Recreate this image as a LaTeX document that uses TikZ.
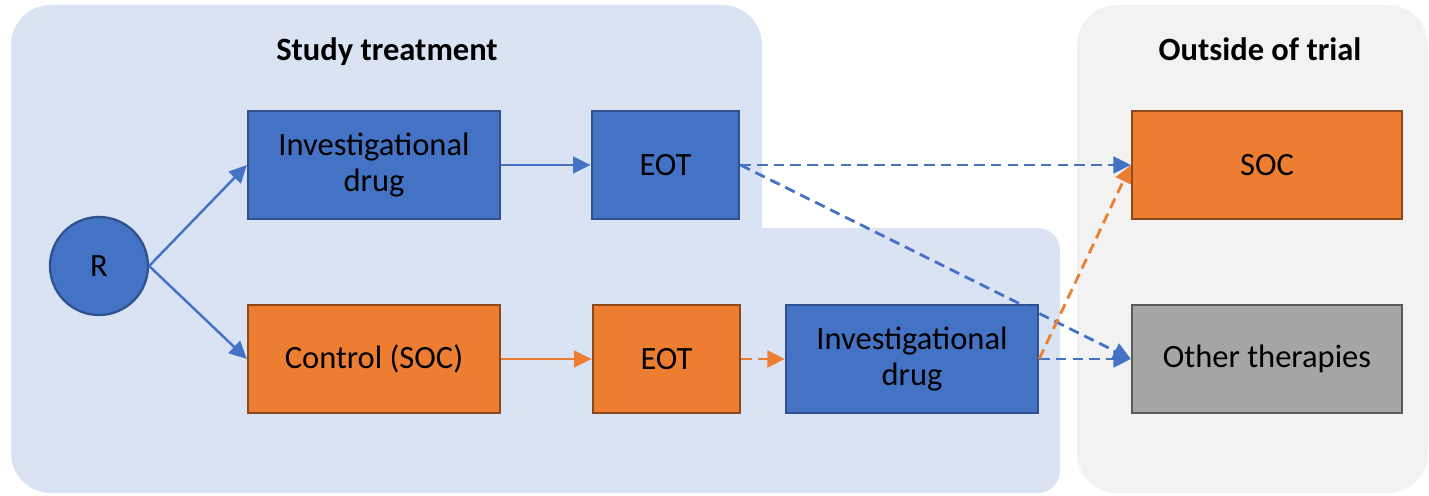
\documentclass[tikz,border=0pt]{standalone}
\usepackage{fontspec}
\setmainfont{Carlito}
\usetikzlibrary{arrows.meta}
\definecolor{bgblue}{HTML}{DAE3F3}
\definecolor{bggrey}{HTML}{F2F2F2}
\definecolor{drugblue}{HTML}{4472C4}
\definecolor{drugedge}{HTML}{2F528F}
\definecolor{socorange}{HTML}{ED7D31}
\definecolor{socedge}{HTML}{8C4A1A}
\definecolor{othergrey}{HTML}{A5A5A5}
\definecolor{otheredge}{HTML}{5A5A5A}
\begin{document}
\begin{tikzpicture}[
  box/.style={draw, line width=1.3pt, minimum height=2.16cm, inner sep=0pt, align=center, font=\fontsize{18.5}{21}\selectfont},
  drug/.style={box, fill=drugblue, draw=drugedge},
  soc/.style={box, fill=socorange, draw=socedge},
  heading/.style={anchor=base, font=\bfseries\fontsize{18.5}{21}\selectfont},
  link/.style={line width=1.4pt, -{Triangle[length=10pt,width=9.5pt]}},
  fwd/.style={link, line width=1.6pt, dash pattern=on 6pt off 3.5pt}
]
\useasboundingbox (0,0) rectangle (28.58,9.9);
\fill [bgblue, rounded corners=0.8cm] (0.22,0.04) rectangle (15.24,9.8);
\fill [bgblue, rounded corners=0.45cm] (14,0.04) rectangle (21.2,5.34);
\fill [bggrey, rounded corners=0.8cm] (21.54,0.04) rectangle (28.56,9.8);
\node [heading] (studytitle) at (7.74,8.69) {Study treatment};
\node [heading] (outsidetitle) at (25.2,8.69) {Outside of trial};
\node [circle, draw=drugedge, line width=1.3pt, fill=drugblue, minimum size=1.96cm, inner sep=0pt, font=\fontsize{18.5}{21}\selectfont] (rand) at (1.98,4.58) {R};
\node [drug, minimum width=5.04cm] (drugarm) at (7.48,6.6) {Investigational\\drug};
\node [drug, minimum width=2.95cm] (eotdrug) at (13.31,6.6) {EOT};
\node [soc, minimum width=5.04cm] (control) at (7.48,2.72) {Control (SOC)};
\node [soc, minimum width=2.95cm] (eotcontrol) at (13.33,2.72) {EOT};
\node [drug, minimum width=5.04cm] (crossover) at (18.24,2.72) {Investigational\\drug};
\node [soc, minimum width=5.4cm] (socout) at (25.34,6.6) {SOC};
\node [box, fill=othergrey, draw=otheredge, minimum width=5.4cm] (other) at (25.34,2.72) {Other therapies};
\draw [link, drugblue] (rand.east) -- (drugarm.west);
\draw [link, drugblue] (rand.east) -- (control.west);
\draw [link, drugblue] (drugarm) -- (eotdrug);
\draw [link, socorange] (control) -- (eotcontrol);
\draw [fwd, socorange] (eotcontrol) -- (crossover);
\draw [fwd, drugblue] (eotdrug) -- (socout);
\draw [fwd, drugblue] (eotdrug.east) -- (other.west);
\draw [fwd, drugblue] (crossover) -- (other);
\draw [fwd, socorange] (crossover.east) -- (socout.west);
\end{tikzpicture}
\end{document}
